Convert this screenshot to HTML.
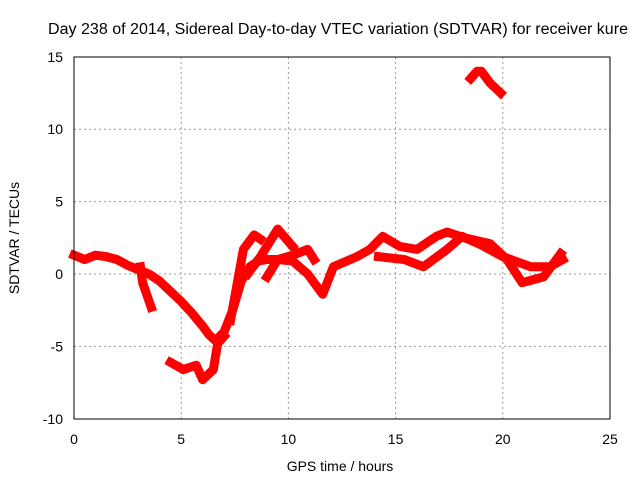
<!DOCTYPE html>
<html><head><meta charset="utf-8"><style>
body{margin:0;background:#fff;}
svg{display:block;font-family:"Liberation Sans",sans-serif;}
</style></head><body>
<svg id="chart" width="640" height="480" viewBox="0 0 640 480">
<rect width="640" height="480" fill="#fff"/>
<text x="338" y="34" font-size="15.5" text-anchor="middle" fill="#000" textLength="580" lengthAdjust="spacingAndGlyphs">Day 238 of 2014, Sidereal Day-to-day VTEC variation (SDTVAR) for receiver kure</text>
<g id="grid"></g>
<g id="series"></g>
<rect x="74" y="57" width="536" height="362" fill="none" stroke="#000" stroke-width="1"/>
<g id="ticks"></g>
<text x="340" y="471" font-size="14" text-anchor="middle">GPS time / hours</text>
<text transform="translate(19,238) rotate(-90)" font-size="14" text-anchor="middle">SDTVAR / TECUs</text>
</svg>
<script>
const xTicks=[0,5,10,15,20,25];
const yTicks=[-10,-5,0,5,10,15];
const s1t=[0,0.5,1,1.5,2,2.5,3,3.5,4,4.5,5,5.5,6,6.3,6.6,7,7.4,7.8,8.2,8.6,9,9.5,10.2,10.9,11.6,12.1,13.2,13.8,14.4,15.2,16,16.9,17.4,18.2,19.4,20.2,20.9,21.9,22.7];
const s1v=[1.3,1.0,1.3,1.2,1.0,0.6,0.3,0.0,-0.5,-1.2,-1.9,-2.7,-3.6,-4.2,-4.6,-4.0,-2.5,-0.5,0.5,0.9,1.0,1.0,0.9,0.0,-1.4,0.5,1.2,1.7,2.6,1.9,1.7,2.6,2.9,2.5,2.1,1.0,-0.6,-0.2,1.4];
const s2t=[14.2,15.4,16.3,17.4,18.1,19.0,20.0,21.3,22.2,22.8];
const s2v=[1.2,1.0,0.5,1.7,2.6,2.0,1.2,0.5,0.5,1.0];
const s3t=[3.1,3.2,3.6];
const s3v=[0.5,-0.6,-2.3];
const s4t=[4.5,5.1,5.7,6.0,6.5,6.7,7.0];
const s4v=[-6.1,-6.6,-6.3,-7.3,-6.6,-4.8,-4.3];
const s5t=[7.3,7.9,8.4,8.7];
const s5v=[-3.2,1.7,2.7,2.4];
const s6t=[8.1,8.7,9.5,10.2];
const s6v=[0.0,1.2,3.1,1.9];
const s7t=[9.0,9.5,10.2,10.9,11.2];
const s7v=[-0.2,1.0,1.3,1.7,1.0];
const s8t=[18.5,18.8,19.0,19.4,19.9];
const s8v=[13.5,14.0,14.0,13.2,12.5];
const X=t=>74+t*536/25, Y=v=>274-v*14.48;
const NS='http://www.w3.org/2000/svg';
const grid=document.getElementById('grid'), ticks=document.getElementById('ticks'), ser=document.getElementById('series');
function mk(tag,attrs,parent){const e=document.createElementNS(NS,tag);for(const k in attrs)e.setAttribute(k,attrs[k]);parent.appendChild(e);return e;}
xTicks.forEach(t=>{
 if(t>0&&t<25){const g=mk('line',{x1:X(t),x2:X(t),y1:57,y2:419,stroke:'#999','stroke-dasharray':'2,3'},grid);
 
 }
 const l=mk('text',{x:X(t),y:444,'font-size':14,'text-anchor':'middle'},ticks);l.textContent=t;
 
 
});
yTicks.forEach(v=>{
 if(v>-10&&v<15){const g=mk('line',{x1:74,x2:610,y1:Y(v),y2:Y(v),stroke:'#999','stroke-dasharray':'2,3'},grid);
 
 }
 const l=mk('text',{x:63,y:Y(v)+5,'font-size':14,'text-anchor':'end'},ticks);l.textContent=v;
 
 
});
[[s1t,s1v],[s2t,s2v],[s3t,s3v],[s4t,s4v],[s5t,s5v],[s6t,s6v],[s7t,s7v],[s8t,s8v]].forEach(([ts,vs],i)=>{
 const p=mk('polyline',{points:ts.map((t,j)=>X(t)+','+Y(vs[j])).join(' '),fill:'none',stroke:'#f00','stroke-width':9,'stroke-linejoin':'round','stroke-linecap':'square'},ser);
 
 
});
</script>
</body></html>
